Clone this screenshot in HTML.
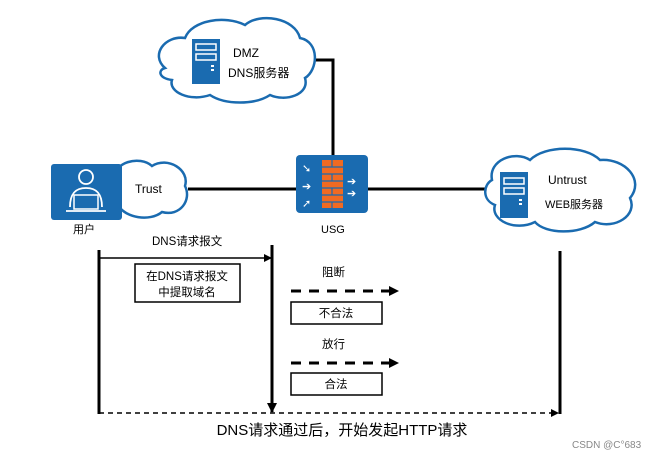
<!DOCTYPE html>
<html><head><meta charset="utf-8"><style>
html,body{margin:0;padding:0;background:#fff;}
svg text{font-family:"Liberation Sans","Noto Sans CJK SC",sans-serif;}
</style></head><body>
<svg width="659" height="459" viewBox="0 0 659 459" xmlns="http://www.w3.org/2000/svg">
<defs>
<marker id="ah" markerWidth="8" markerHeight="8" refX="7" refY="4" orient="auto" markerUnits="userSpaceOnUse"><path d="M0,0 L8,4 L0,8 z" fill="#000"/></marker>
<marker id="ah2" markerWidth="10" markerHeight="10" refX="9" refY="5" orient="auto" markerUnits="userSpaceOnUse"><path d="M0,0 L10,5 L0,10 z" fill="#000"/></marker>
</defs>
<polyline points="315,60 333,60 333,156" fill="none" stroke="#000" stroke-width="3"/>
<line x1="188" y1="189" x2="297" y2="189" stroke="#000" stroke-width="3"/>
<line x1="367" y1="189" x2="486" y2="189" stroke="#000" stroke-width="3"/>
<path d="M165,68 C150,55 165,35 185,38 C192,20 225,15 245,25 C260,12 295,18 300,38 C320,42 318,70 305,78 C310,95 285,102 270,95 C255,105 225,105 210,95 C190,102 168,92 172,80 C158,78 158,70 165,68 z" fill="#fff" stroke="#1a6bb0" stroke-width="2.5"/>
<rect x="192" y="39" width="28" height="45" fill="#1a6bb0"/>
<rect x="196" y="44" width="20" height="6" fill="none" stroke="#fff" stroke-width="1.5"/>
<rect x="196" y="54" width="20" height="6" fill="none" stroke="#fff" stroke-width="1.5"/>
<rect x="211" y="65" width="3" height="2" fill="#fff"/><rect x="211" y="69" width="3" height="2" fill="#fff"/>
<text x="233" y="57" font-size="12">DMZ</text>
<text x="228" y="77" font-size="12">DNS服务器</text>
<path d="M115,180 C112,162 140,155 152,166 C168,156 190,170 185,186 C192,200 180,217 162,212 C150,222 125,218 118,205 C105,200 105,185 115,180 z" fill="#fff" stroke="#1a6bb0" stroke-width="2.5"/>
<rect x="51" y="164" width="71" height="56" rx="3" fill="#1a6bb0"/>
<circle cx="86" cy="177" r="7" fill="none" stroke="#fff" stroke-width="1.8"/>
<path d="M70,207 C70,193 76,188 86,188 C96,188 102,193 102,207" fill="none" stroke="#fff" stroke-width="1.8"/>
<rect x="74" y="195" width="24" height="14" fill="#1a6bb0" stroke="#fff" stroke-width="1.5"/>
<line x1="66" y1="211" x2="106" y2="211" stroke="#fff" stroke-width="1.8"/>
<text x="135" y="193" font-size="12">Trust</text>
<text x="73" y="233" font-size="11">用户</text>
<rect x="296" y="155" width="72" height="58" rx="4" fill="#1a6bb0"/>
<rect x="322" y="160" width="21" height="48" fill="#f06a22"/>
<g stroke="#1a6bb0" stroke-width="1.2">
<line x1="322" y1="167" x2="343" y2="167"/><line x1="322" y1="174" x2="343" y2="174"/><line x1="322" y1="181" x2="343" y2="181"/><line x1="322" y1="188" x2="343" y2="188"/><line x1="322" y1="195" x2="343" y2="195"/><line x1="322" y1="202" x2="343" y2="202"/>
<line x1="332" y1="160" x2="332" y2="167"/><line x1="332" y1="174" x2="332" y2="181"/><line x1="332" y1="188" x2="332" y2="195"/><line x1="332" y1="202" x2="332" y2="208"/>
</g>
<g fill="#fff" font-size="11"><text x="302" y="172">➘</text><text x="302" y="190">➔</text><text x="302" y="207">➚</text><text x="347" y="185">➔</text><text x="347" y="197">➔</text></g>
<text x="321" y="233" font-size="11">USG</text>
<path d="M492,180 C488,160 515,150 530,160 C545,145 585,145 600,160 C625,158 645,180 630,198 C638,215 615,230 595,222 C580,235 545,234 535,222 C515,232 490,220 495,205 C482,200 483,185 492,180 z" fill="#fff" stroke="#1a6bb0" stroke-width="2.5"/>
<rect x="500" y="172" width="28" height="46" fill="#1a6bb0"/>
<rect x="504" y="178" width="20" height="6" fill="none" stroke="#fff" stroke-width="1.5"/>
<rect x="504" y="188" width="20" height="6" fill="none" stroke="#fff" stroke-width="1.5"/>
<rect x="519" y="199" width="3" height="2" fill="#fff"/><rect x="519" y="203" width="3" height="2" fill="#fff"/>
<text x="548" y="184" font-size="12">Untrust</text>
<text x="545" y="208" font-size="11">WEB服务器</text>
<line x1="99" y1="250" x2="99" y2="414" stroke="#000" stroke-width="3"/>
<line x1="272" y1="245" x2="272" y2="412" stroke="#000" stroke-width="3" marker-end="url(#ah2)"/>
<line x1="560" y1="251" x2="560" y2="414" stroke="#000" stroke-width="3"/>
<text x="152" y="245" font-size="11.5">DNS请求报文</text>
<line x1="99" y1="258" x2="271" y2="258" stroke="#000" stroke-width="1.5" marker-end="url(#ah)"/>
<rect x="135" y="264" width="105" height="38" fill="#fff" stroke="#000" stroke-width="1.5"/>
<text x="187" y="280" font-size="11.5" text-anchor="middle">在DNS请求报文</text>
<text x="187" y="296" font-size="11.5" text-anchor="middle">中提取域名</text>
<text x="322" y="276" font-size="11.5">阻断</text>
<line x1="291" y1="291" x2="398" y2="291" stroke="#000" stroke-width="3" stroke-dasharray="10,8" marker-end="url(#ah2)"/>
<rect x="291" y="302" width="91" height="22" fill="#fff" stroke="#000" stroke-width="1.5"/>
<text x="336" y="317" font-size="11.5" text-anchor="middle">不合法</text>
<text x="322" y="348" font-size="11.5">放行</text>
<line x1="291" y1="363" x2="398" y2="363" stroke="#000" stroke-width="3" stroke-dasharray="10,8" marker-end="url(#ah2)"/>
<rect x="291" y="373" width="91" height="22" fill="#fff" stroke="#000" stroke-width="1.5"/>
<text x="336" y="388" font-size="11.5" text-anchor="middle">合法</text>
<line x1="99" y1="413" x2="558" y2="413" stroke="#000" stroke-width="1.5" stroke-dasharray="5,4" marker-end="url(#ah)"/>
<text x="342" y="435" font-size="15" text-anchor="middle">DNS请求通过后，开始发起HTTP请求</text>
<text x="572" y="448" font-size="10" fill="#888">CSDN @C°683</text>
</svg>
</body></html>
